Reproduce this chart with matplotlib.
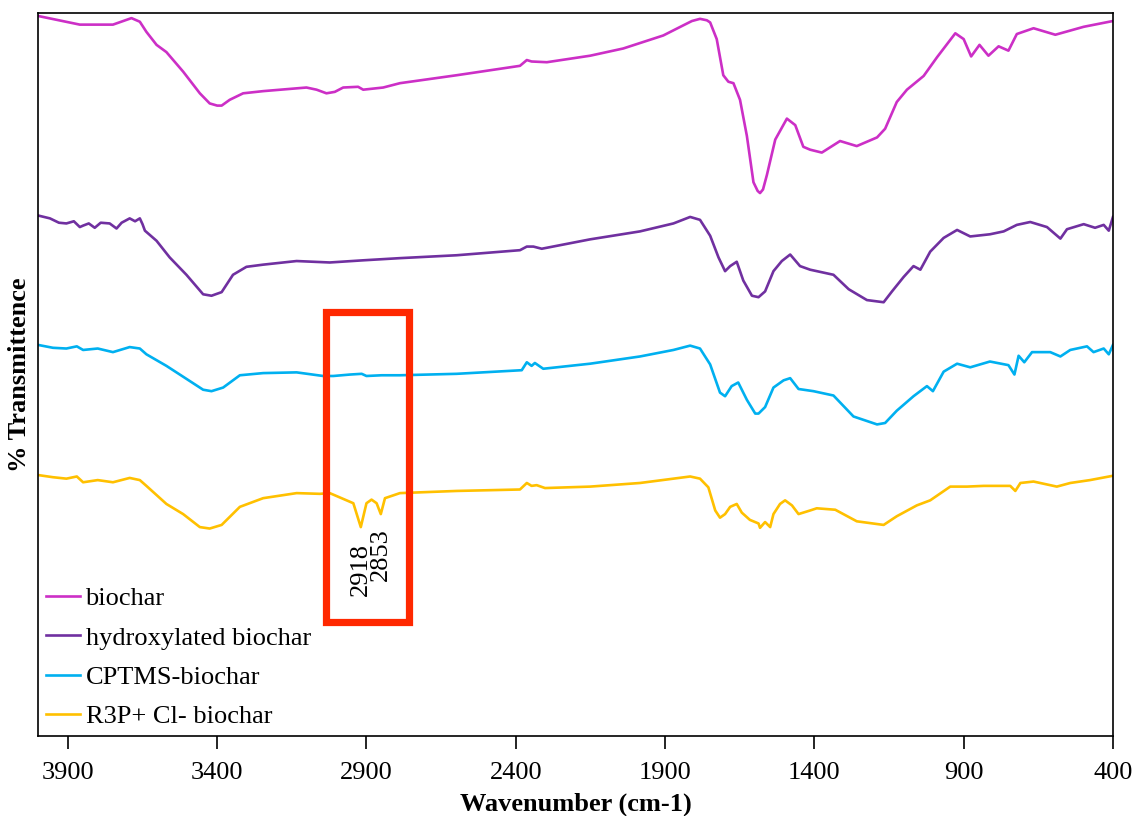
import matplotlib

matplotlib.use('Agg')
import matplotlib.pyplot as plt
from matplotlib.patches import Rectangle

# FTIR spectra, stacked with offsets (arbitrary % transmittance scale)
wn_biochar = [4000, 3860, 3749, 3687, 3659, 3637, 3603, 3570, 3514, 3458, 3425, 3400, 3385,
              3358, 3313, 3246, 3101, 3067, 3034, 3006, 2978, 2928, 2911, 2844, 2788, 2598,
              2386, 2363, 2347, 2296, 2151, 2040, 1906, 1839, 1810, 1783, 1760, 1749, 1727,
              1705, 1688, 1671, 1649, 1626, 1604, 1590, 1582, 1572, 1559, 1531, 1492, 1464,
              1437, 1414, 1375, 1314, 1258, 1190, 1163, 1124, 1090, 1034, 989, 928, 900, 875,
              847, 817, 783, 750, 722, 666, 593, 498, 400]
t_biochar = [99.6, 98.4, 98.4, 99.3, 98.8, 97.4, 95.6, 94.6, 91.9, 88.9, 87.5, 87.2, 87.2,
             88.0, 88.9, 89.2, 89.7, 89.4, 88.9, 89.1, 89.7, 89.8, 89.4, 89.7, 90.3, 91.4,
             92.7, 93.5, 93.3, 93.2, 94.1, 95.1, 96.9, 98.3, 98.9, 99.2, 99.0, 98.7, 96.4,
             91.4, 90.5, 90.3, 88.0, 83.0, 76.6, 75.4, 75.1, 75.6, 77.6, 82.5, 85.4, 84.5,
             81.5, 81.1, 80.7, 82.3, 81.6, 82.8, 84.0, 87.7, 89.4, 91.3, 93.9, 97.2, 96.4,
             94.0, 95.6, 94.1, 95.4, 94.8, 97.1, 97.9, 97.0, 98.1, 98.9]

wn_hydroxy = [4000, 3960, 3930, 3905, 3880, 3860, 3849, 3830, 3810, 3790, 3760, 3737, 3720,
              3693, 3675, 3659, 3650, 3642, 3603, 3559, 3503, 3447, 3419, 3385, 3347, 3302,
              3246, 3134, 3023, 2911, 2788, 2598, 2386, 2363, 2341, 2313, 2151, 1984, 1872,
              1816, 1783, 1749, 1721, 1699, 1682, 1660, 1638, 1609, 1587, 1565, 1537, 1509,
              1481, 1448, 1414, 1336, 1285, 1224, 1168, 1140, 1101, 1068, 1045, 1012, 967,
              922, 878, 812, 766, 722, 677, 621, 576, 554, 498, 460, 431, 414, 400]
t_hydroxy = [72.0, 71.6, 71.0, 70.9, 71.2, 70.4, 70.6, 70.9, 70.3, 71.0, 70.9, 70.2, 71.0,
             71.6, 71.2, 71.6, 70.8, 69.9, 68.5, 66.2, 63.8, 61.1, 60.9, 61.4, 63.8, 64.9,
             65.2, 65.7, 65.5, 65.8, 66.1, 66.5, 67.2, 67.7, 67.7, 67.4, 68.7, 69.8, 70.9,
             71.8, 71.4, 69.2, 66.2, 64.3, 65.0, 65.6, 63.0, 60.9, 60.7, 61.5, 64.3, 65.7,
             66.6, 65.0, 64.5, 63.8, 61.8, 60.3, 60.0, 61.5, 63.5, 65.0, 64.5, 67.0, 68.9,
             70.0, 69.1, 69.4, 69.8, 70.7, 71.1, 70.4, 68.8, 70.1, 70.8, 70.3, 70.7, 69.9, 71.8]

wn_cptms = [4000, 3950, 3905, 3870, 3849, 3800, 3749, 3693, 3659, 3637, 3570, 3514, 3447,
            3419, 3380, 3324, 3246, 3134, 3045, 3011, 2955, 2916, 2900, 2849, 2788, 2598,
            2380, 2363, 2347, 2336, 2308, 2151, 1984, 1872, 1816, 1783, 1749, 1716, 1699,
            1677, 1655, 1626, 1598, 1587, 1565, 1537, 1503, 1481, 1453, 1403, 1336, 1269,
            1190, 1163, 1124, 1068, 1023, 1003, 967, 922, 878, 812, 750, 730, 716, 697, 671,
            610, 576, 543, 487, 465, 431, 414, 400]
t_cptms = [54.1, 53.7, 53.6, 53.9, 53.4, 53.6, 53.1, 53.8, 53.6, 52.8, 51.2, 49.7, 47.9,
           47.7, 48.2, 49.9, 50.2, 50.3, 49.8, 49.8, 50.0, 50.1, 49.8, 49.9, 49.9, 50.1,
           50.6, 51.7, 51.2, 51.6, 50.8, 51.5, 52.5, 53.4, 54.0, 53.6, 51.4, 47.5, 47.0,
           48.4, 48.9, 46.5, 44.6, 44.6, 45.5, 48.2, 49.2, 49.5, 48.0, 47.7, 47.1, 44.2,
           43.1, 43.3, 45.0, 47.0, 48.4, 47.7, 50.4, 51.5, 51.0, 51.8, 51.3, 50.0, 52.6, 51.7,
           53.1, 53.1, 52.5, 53.4, 53.9, 53.1, 53.6, 52.8, 54.1]

wn_r3p = [4000, 3950, 3905, 3870, 3849, 3800, 3749, 3693, 3659, 3637, 3570, 3514, 3458,
          3425, 3385, 3324, 3246, 3134, 3056, 3023, 2944, 2919, 2900, 2883, 2866, 2852,
          2838, 2788, 2598, 2386, 2363, 2347, 2330, 2302, 2151, 1984, 1872, 1816, 1783,
          1755, 1732, 1716, 1699, 1682, 1660, 1643, 1616, 1587, 1582, 1565, 1548, 1537,
          1515, 1498, 1475, 1453, 1414, 1392, 1330, 1258, 1168, 1124, 1057, 1012, 945, 889,
          833, 744, 727, 710, 666, 588, 543, 477, 400]
t_r3p = [36.1, 35.8, 35.6, 35.9, 35.1, 35.4, 35.1, 35.7, 35.4, 34.6, 32.1, 30.7, 28.9,
         28.7, 29.2, 31.7, 32.9, 33.6, 33.5, 33.6, 32.2, 28.9, 32.2, 32.7, 32.2, 30.7,
         32.9, 33.6, 33.9, 34.1, 35.0, 34.6, 34.7, 34.3, 34.5, 35.0, 35.6, 35.9, 35.6,
         34.4, 31.2, 30.2, 30.7, 31.7, 32.1, 30.9, 29.9, 29.4, 28.8, 29.6, 28.9, 30.7,
         32.1, 32.6, 31.9, 30.7, 31.2, 31.5, 31.3, 29.7, 29.2, 30.4, 31.9, 32.6, 34.5, 34.5,
         34.6, 34.6, 33.9, 35.0, 35.2, 34.5, 35.0, 35.4, 36.0]

series = [
    ('biochar', wn_biochar, t_biochar, '#cc2fc6'),
    ('hydroxylated biochar', wn_hydroxy, t_hydroxy, '#7030a0'),
    ('CPTMS-biochar', wn_cptms, t_cptms, '#00b0f0'),
    ('R3P+ Cl- biochar', wn_r3p, t_r3p, '#ffc000'),
]

# peaks marked on the R3P+ Cl- spectrum
peak_wn = [2918, 2853]
peak_label_top = [26.7, 28.8]

plt.rcParams['font.family'] = ['Liberation Serif', 'DejaVu Serif']

fig = plt.figure(figsize=(11.38, 8.16), dpi=100)
ax = fig.add_axes([0.0334, 0.098, 0.9446, 0.886])

for name, x, y, color in series:
    ax.plot(x, y, color=color, lw=1.9, label=name)

ax.add_patch(Rectangle((3036, 15.8), 2759 - 3036, 58.7 - 15.8, fill=False,
                       edgecolor='#ff2800', lw=5.2, zorder=5))

for w, top in zip(peak_wn, peak_label_top):
    ax.text(w, top, str(w), rotation=90, ha='center', va='top', fontsize=19)

ax.set_xlim(4000, 400)
ax.set_ylim(0, 100)
ax.set_xticks([3900, 3400, 2900, 2400, 1900, 1400, 900, 400])
ax.set_yticks([])
ax.tick_params(axis='x', direction='out', length=9, width=1.2, labelsize=19, pad=10)
for s in ax.spines.values():
    s.set_linewidth(1.2)

ax.set_xlabel('Wavenumber (cm-1)', fontsize=19, fontweight='bold', labelpad=6)
ax.set_ylabel('% Transmittence', fontsize=19, fontweight='bold', labelpad=5)

ax.legend(loc='lower left', frameon=False, fontsize=19, handlelength=1.3,
          handletextpad=0.2, labelspacing=0.6, borderaxespad=0.1, borderpad=0.2)

plt.savefig('out.png', dpi=100)
